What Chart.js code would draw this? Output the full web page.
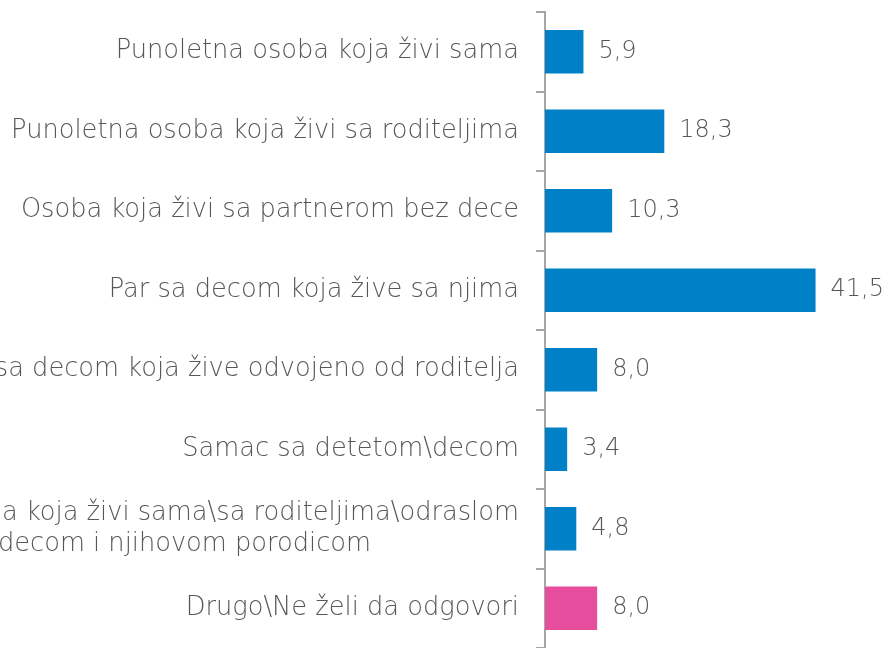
<!DOCTYPE html>
<html>
<head>
<meta charset="utf-8">
<script src="https://cdn.jsdelivr.net/npm/chart.js@4"></script>
<style>
  body { margin: 0; background: #fff; }
</style>
</head>
<body>
<canvas id="chart" width="884" height="648"></canvas>
<script>
// category labels (one entry per line)
const categories = [
    ['Punoletna osoba koja živi sama'],
    ['Punoletna osoba koja živi sa roditeljima'],
    ['Osoba koja živi sa partnerom bez dece'],
    ['Par sa decom koja žive sa njima'],
    ['Par sa decom koja žive odvojeno od roditelja'],
    ['Samac sa detetom\\decom'],
    ['Starija osoba koja živi sama\\sa roditeljima\\odraslom', 'decom i njihovom porodicom'],
    ['Drugo\\Ne želi da odgovori']
];
const values = [5.9, 18.3, 10.3, 41.5, 8.0, 3.4, 4.8, 8.0];
const barColors = ['#0080c6', '#0080c6', '#0080c6', '#0080c6', '#0080c6', '#0080c6', '#0080c6', '#e64d9c'];

const TEXT_COLOR = '#575757';
const LABEL_FONT = '200 25.7px "DejaVu Sans"';
const VALUE_FONT = '200 24px "DejaVu Sans"';

// category labels: block right-aligned next to the axis, lines centered to each other
const categoryLabels = {
    id: 'categoryLabels',
    afterDraw(chart) {
        const ctx = chart.ctx;
        const yScale = chart.scales.y;
        const right = yScale.right - 26;
        ctx.save();
        ctx.font = LABEL_FONT;
        ctx.fillStyle = TEXT_COLOR;
        ctx.textAlign = 'center';
        ctx.textBaseline = 'middle';
        categories.forEach((lines, i) => {
            const y = yScale.getPixelForValue(i);
            const maxW = Math.max(...lines.map(l => ctx.measureText(l).width));
            const cx = right - maxW / 2;
            lines.forEach((line, j) => {
                ctx.fillText(line, cx, y + (j - (lines.length - 1) / 2) * 31);
            });
        });
        ctx.restore();
    }
};

// value labels to the right of each bar
const valueLabels = {
    id: 'valueLabels',
    afterDatasetsDraw(chart) {
        const ctx = chart.ctx;
        const meta = chart.getDatasetMeta(0);
        ctx.save();
        ctx.font = VALUE_FONT;
        ctx.fillStyle = TEXT_COLOR;
        ctx.textAlign = 'left';
        ctx.textBaseline = 'middle';
        meta.data.forEach((bar, i) => {
            ctx.fillText(values[i].toFixed(1).replace('.', ','), bar.x + 15, bar.y);
        });
        ctx.restore();
    }
};

const ctx = document.getElementById('chart').getContext('2d');
new Chart(ctx, {
    type: 'bar',
    data: {
        labels: categories,
        datasets: [{
            data: values,
            backgroundColor: barColors,
            borderWidth: 0,
            categoryPercentage: 1,
            barPercentage: 0.55
        }]
    },
    options: {
        indexAxis: 'y',
        responsive: false,
        animation: false,
        devicePixelRatio: 1,
        layout: { padding: { top: 12, bottom: -4, left: 0, right: 0 } },
        plugins: {
            legend: { display: false },
            tooltip: { enabled: false }
        },
        scales: {
            x: {
                display: false,
                min: 0,
                max: 52
            },
            y: {
                afterFit: (scale) => { scale.width = 545; },
                ticks: { display: false },
                border: { display: true, color: '#a6a6a6', width: 2 },
                grid: {
                    offset: true,
                    drawOnChartArea: false,
                    drawTicks: true,
                    tickLength: 9,
                    color: '#a6a6a6',
                    lineWidth: 2
                }
            }
        }
    },
    plugins: [categoryLabels, valueLabels]
});
</script>
</body>
</html>
